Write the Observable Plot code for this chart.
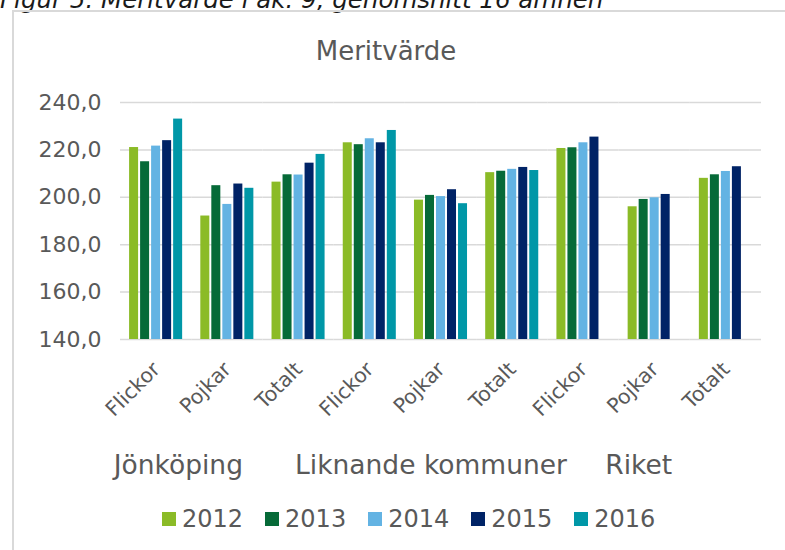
<!DOCTYPE html>
<html>
<head>
<meta charset="utf-8">
<script src="https://cdn.jsdelivr.net/npm/d3@7"></script>
<script src="https://cdn.jsdelivr.net/npm/@observablehq/plot@0.6"></script>
<style>
  html, body { margin: 0; padding: 0; background: #fff; }
  body { width: 785px; height: 550px; position: relative; overflow: hidden; font-family: "DejaVu Sans", Verdana, sans-serif; }
  #header { position: absolute; left: 0; top: -12px; font-size: 24.5px; line-height: 24px; font-style: italic; color: #1a1a1a; white-space: nowrap; }
  #box { position: absolute; left: 12px; top: 10px; width: 800px; height: 560px; border-top: 2px solid #d9d9d9; border-left: 2px solid #d9d9d9; }
  #title { position: absolute; left: 13px; width: 746px; top: 38px; text-align: center; font-size: 26px; line-height: 26px; color: #595959; }
  #chart { position: absolute; left: 0; top: 80px; }
  #legend { position: absolute; left: 162px; top: 506px; display: flex; align-items: center; font-size: 24px; line-height: 26px; color: #595959; }
  .item { display: flex; align-items: center; margin-right: 22px; }
  .sw { width: 14px; height: 14px; margin-right: 6px; }
</style>
</head>
<body>
<div id="header"></div>
<div id="box"></div>
<div id="title"></div>
<div id="chart"></div>
<div id="legend"></div>
<script>
const headerText = "Figur 5. Meritvärde i åk. 9, genomsnitt 16 ämnen";
const chartTitle = "Meritvärde";
const regions = ["Jönköping", "Liknande kommuner", "Riket"];
const groups = ["Flickor", "Pojkar", "Totalt"];
const years = ["2012", "2013", "2014", "2015", "2016"];
const colors = ["#8bbb27", "#066a38", "#63b3e3", "#002366", "#0097a7"];
const yTicks = [140, 160, 180, 200, 220, 240];

// values per year 2012..2016 (null = no data)
const jkpFlickor = [221.0, 215.0, 221.6, 223.9, 233.0];
const jkpPojkar  = [192.1, 204.9, 197.0, 205.6, 203.8];
const jkpTotalt  = [206.4, 209.5, 209.4, 214.4, 218.1];
const likFlickor = [223.0, 222.2, 224.7, 223.0, 228.2];
const likPojkar  = [198.8, 200.8, 200.3, 203.2, 197.3];
const likTotalt  = [210.4, 211.0, 211.8, 212.6, 211.3];
const rikFlickor = [220.6, 220.9, 223.0, 225.4, null];
const rikPojkar  = [196.0, 199.1, 199.8, 201.2, null];
const rikTotalt  = [208.0, 209.5, 210.9, 212.9, null];

const series = [
  [jkpFlickor, jkpPojkar, jkpTotalt],
  [likFlickor, likPojkar, likTotalt],
  [rikFlickor, rikPojkar, rikTotalt]
];

const keys = [];
const data = [];
regions.forEach((r, ri) => groups.forEach((g, gi) => {
  const key = r + "|" + g;
  keys.push(key);
  series[ri][gi].forEach((v, yi) => {
    if (v != null) data.push({key, region: r, group: g, year: years[yi], value: v});
  });
}));
const catLabels = keys.map(k => ({key: k, label: k.split("|")[1]}));

document.getElementById("header").textContent = headerText;
document.getElementById("title").textContent = chartTitle;

const fmt = d => d.toFixed(1).replace(".", ",");
const gray = "#595959";

const regionLabel = (ri, dx) => Plot.text([{key: regions[ri] + "|" + groups[1], label: regions[ri]}], {
  fx: "key", text: "label", frameAnchor: "bottom", dy: 134, dx,
  fontSize: 26.5, fill: gray
});

const chart = Plot.plot({
  width: 785,
  height: 400,
  marginLeft: 120,
  marginRight: 24,
  marginTop: 22,
  marginBottom: 141,
  style: {fontFamily: "DejaVu Sans, Verdana, sans-serif", background: "transparent", overflow: "visible"},
  fx: {domain: keys, paddingInner: 0, paddingOuter: 0, round: false, axis: null, label: null},
  x: {domain: years, paddingInner: 2 / 11, paddingOuter: 0.825, round: false, axis: null},
  y: {domain: [140, 240], label: null},
  color: {domain: years, range: colors},
  marks: [
    Plot.gridY(yTicks, {stroke: "#d9d9d9", strokeOpacity: 1, strokeWidth: 1.5}),
    Plot.axisY(yTicks, {tickSize: 0, tickPadding: 19, tickFormat: fmt, fontSize: 22, fill: gray, label: null}),
    Plot.barY(data, {fx: "key", x: "year", y1: 140, y2: "value", fill: "year"}),
    Plot.text(catLabels, {fx: "key", text: "label", frameAnchor: "bottom", rotate: -45, textAnchor: "end",
      dx: 5, dy: 31, fontSize: 20.5, fill: gray}),
    regionLabel(0, -49),
    regionLabel(1, -10),
    regionLabel(2, -16)
  ]
});
document.getElementById("chart").appendChild(chart);

const legend = document.getElementById("legend");
years.forEach((y, i) => {
  const item = document.createElement("div");
  item.className = "item";
  const sw = document.createElement("div");
  sw.className = "sw";
  sw.style.background = colors[i];
  const t = document.createElement("span");
  t.textContent = y;
  item.appendChild(sw);
  item.appendChild(t);
  legend.appendChild(item);
});
</script>
</body>
</html>
